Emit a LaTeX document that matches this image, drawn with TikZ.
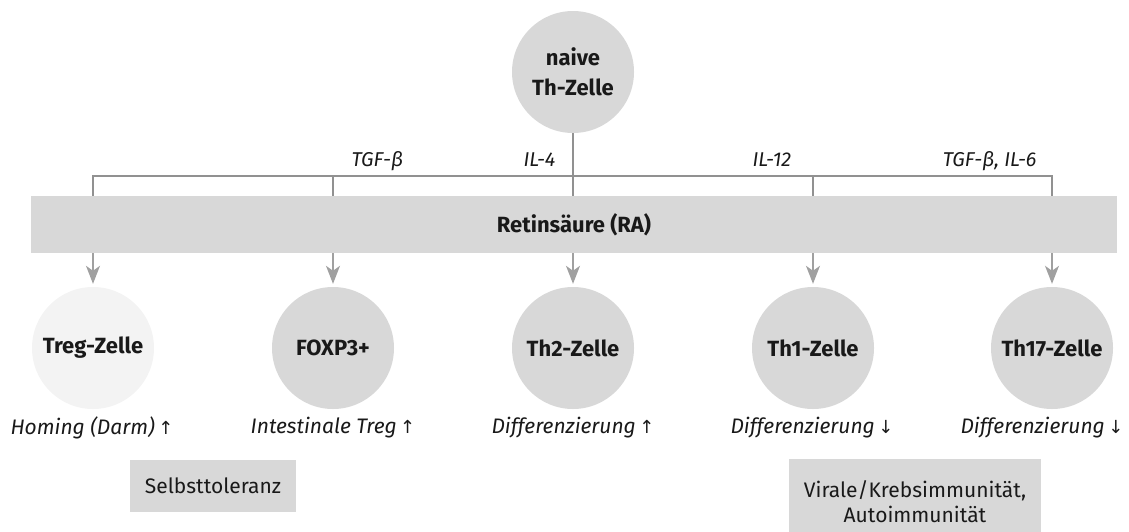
\documentclass[tikz,border=0pt]{standalone}
\usepackage{fontspec}
\setmainfont{Fira Sans}
\newfontfamily\arrowfont{DejaVu Sans}
\usetikzlibrary{arrows.meta}

\definecolor{cellgray}{RGB}{216,216,216}
\definecolor{palegray}{RGB}{243,243,243}
\definecolor{linegray}{RGB}{145,145,145}
\definecolor{tipgray}{RGB}{160,160,160}
\definecolor{inkgray}{RGB}{25,25,25}

\newcommand{\up}{\,{\arrowfont\fontsize{18}{18}\selectfont ↑}}
\newcommand{\down}{\,{\arrowfont\fontsize{18}{18}\selectfont ↓}}

\tikzset{
  cell/.style={circle, fill=cellgray, minimum size=122pt, inner sep=0pt,
    align=center, font=\fontsize{22}{30}\selectfont\bfseries, text=inkgray},
  faintcell/.style={cell, fill=palegray},
  band/.style={rectangle, fill=cellgray, minimum width=1086pt, minimum height=57pt,
    inner sep=0pt, font=\fontsize{22}{25}\selectfont\bfseries, text=inkgray},
  effect/.style={font=\fontsize{21}{25}\selectfont\itshape, text=inkgray},
  cytokine/.style={font=\fontsize{20}{24}\selectfont\itshape, text=inkgray},
  outcome/.style={rectangle, fill=cellgray, inner xsep=15pt, align=center,
    font=\fontsize{21}{25}\selectfont, text=inkgray},
  branch/.style={draw=linegray, line width=1.6pt},
  feed/.style={draw=tipgray, line width=1.4pt,
    -{Stealth[length=18pt, width=14pt, inset=5pt]}, shorten >=3pt}
}

\begin{document}
\begin{tikzpicture}[x=1pt, y=-1pt]
\useasboundingbox (0,0) rectangle (1129,531);
\clip (0,0) rectangle (1129,531);

% naive T helper cell on top
\node[cell] (naive) at (573,72) {naive\\Th-Zelle};

% retinoic acid band
\node[band] (ra) at (574,224.5) {Retinsäure (RA)};

% daughter cells
\node[faintcell] (treg)  at (93,348)   {Treg-Zelle};
\node[cell]      (foxp3) at (333,348)  {FOXP3+};
\node[cell]      (th2)   at (573,348)  {Th2-Zelle};
\node[cell]      (th1)   at (813,348)  {Th1-Zelle};
\node[cell]      (th17)  at (1052,348) {Th17-Zelle};

% branching bracket above the band
\coordinate (j1) at (93,176);
\coordinate (j2) at (333,176);
\coordinate (j4) at (813,176);
\coordinate (j5) at (1052,176);
\draw[branch] (naive.south) -- (naive.south |- ra.north);
\draw[branch] (j1 |- ra.north) -- (j1) -- (j5) -- (j5 |- ra.north);
\draw[branch] (j2) -- (j2 |- ra.north);
\draw[branch] (j4) -- (j4 |- ra.north);

% cytokine labels
\node[cytokine, anchor=base west] (c1) at (348,166) {TGF-β};
\node[cytokine, anchor=base east] (c2) at (559,166) {IL-4};
\node[cytokine, anchor=base west] (c3) at (749,166) {IL-12};
\node[cytokine, anchor=base east] (c4) at (1040,166) {TGF-β, IL-6};

% arrows from the band to each cell
\foreach \c in {treg,foxp3,th2,th1,th17}
  \draw[feed] (\c.north |- ra.south) -- (\c.north);

% effects
\node[effect] (e1) at (92,428)   {Homing (Darm)\up};
\node[effect] (e2) at (333,428)  {Intestinale Treg\up};
\node[effect] (e3) at (573,428)  {Differenzierung\up};
\node[effect] (e4) at (812,428)  {Differenzierung\down};
\node[effect, anchor=east] (e5) at (1127,428) {Differenzierung\down};

% outcomes
\node[outcome, minimum height=52pt] (tol) at (213,486) {Selbsttoleranz};
\node[outcome, anchor=north, inner ysep=21pt] (imm) at (915,459)
  {Virale/Krebsimmunität,\\Autoimmunität};
\end{tikzpicture}
\end{document}
